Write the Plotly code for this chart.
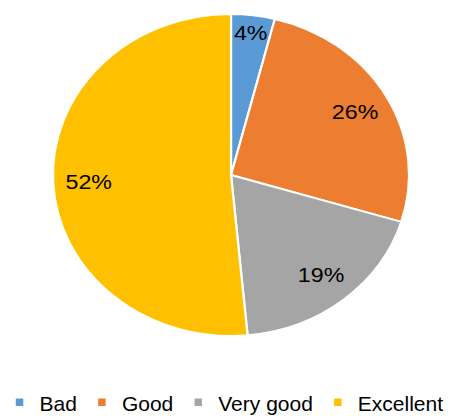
import plotly.graph_objects as go

# Survey ratings and their shares (percent)
categories = ["Bad", "Good", "Very good", "Excellent"]
shares = [4, 26, 19, 52]
colors = ["#5B9BD5", "#ED7D31", "#A5A5A5", "#FFC000"]

FONT = "Liberation Sans, Arial, sans-serif"
DOMAIN = dict(x=[0.1522, 0.8522], y=[0.1923, 0.9663])

fig = go.Figure()

# Solid pie with white separators
fig.add_trace(
    go.Pie(
        labels=categories,
        values=shares,
        sort=False,
        direction="clockwise",
        marker=dict(colors=colors, line=dict(color="white", width=2)),
        textinfo="none",
        hoverinfo="label+value",
        domain=DOMAIN,
    )
)

# Transparent ring on top carries the percentage labels out toward the rim
fig.add_trace(
    go.Pie(
        labels=categories,
        values=shares,
        sort=False,
        direction="clockwise",
        hole=0.6,
        marker=dict(colors=["rgba(0,0,0,0)"] * len(shares), line=dict(width=0)),
        texttemplate="%{value}%",
        textposition="inside",
        insidetextorientation="horizontal",
        textfont=dict(family=FONT, size=21, color="black"),
        hoverinfo="skip",
        showlegend=False,
        domain=DOMAIN,
    )
)

fig.update_layout(
    width=460,
    height=416,
    margin=dict(l=0, r=0, t=0, b=0, autoexpand=False),
    paper_bgcolor="white",
    plot_bgcolor="white",
    font=dict(family=FONT, size=21, color="black"),
    uniformtext=dict(minsize=21, mode="show"),
    showlegend=True,
    legend=dict(
        orientation="h",
        x=0.487,
        xanchor="center",
        y=0.032,
        yanchor="middle",
        font=dict(family=FONT, size=21, color="black"),
        bgcolor="rgba(0,0,0,0)",
    ),
)

# Widen the pie horizontally into an oval and shrink the legend keys
post = """
var gd = document.getElementById('{plot_id}');
var cx = gd.calcdata[0][0].cx;
gd.querySelectorAll('.pielayer .trace').forEach(function (g) {
  g.setAttribute('transform', 'translate(' + cx + ',0) scale(1.1058,1) translate(' + (-cx) + ',0)');
});
gd.querySelectorAll('.legendpoints path').forEach(function (p) {
  var t = p.getAttribute('transform') || '';
  p.setAttribute('transform', t + ' scale(0.75)');
});
"""

fig.write_html("out.html", post_script=post)
